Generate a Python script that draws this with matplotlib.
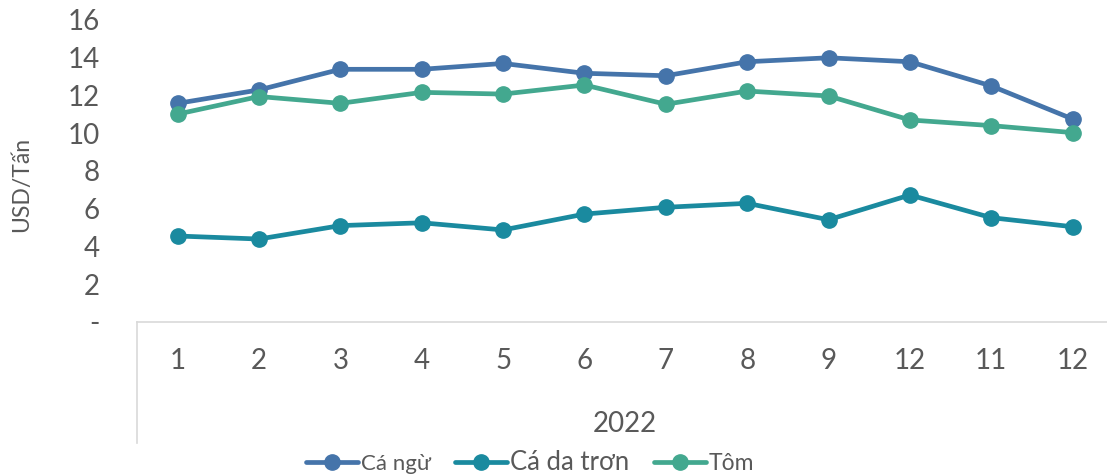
import matplotlib
matplotlib.use("Agg")
import matplotlib.pyplot as plt
import numpy as np

plt.rcParams['font.family'] = ['Lato', 'DejaVu Sans']

months = ["1", "2", "3", "4", "5", "6", "7", "8", "9", "12", "11", "12"]
year_label = "2022"
ca_ngu = [11.57, 12.28, 13.37, 13.37, 13.68, 13.16, 13.03, 13.77, 13.98, 13.77, 12.49, 10.74]
ca_da_tron = [4.55, 4.39, 5.10, 5.25, 4.87, 5.71, 6.07, 6.28, 5.41, 6.72, 5.52, 5.04]
tom = [11.00, 11.93, 11.57, 12.15, 12.06, 12.54, 11.52, 12.22, 11.96, 10.69, 10.39, 10.02]
series_names = ["Cá ngừ", "Cá da trơn", "Tôm"]
y_ticks = [0, 2, 4, 6, 8, 10, 12, 14, 16]
y_labels = ["-", "2", "4", "6", "8", "10", "12", "14", "16"]

colors = ["#4574AA", "#1A8A9F", "#43A88F"]
text_color = "#595959"

W, H = 1107, 476
fig = plt.figure(figsize=(W / 100, H / 100), dpi=100)
left_px, right_px, bottom_px, top_px = 137, 1107, 322, 19.6
ax = fig.add_axes([left_px / W, (H - bottom_px) / H, (right_px - left_px) / W, (bottom_px - top_px) / H])

x = np.arange(len(months))
handles = []
for vals, c, name in zip([ca_ngu, ca_da_tron, tom], colors, series_names):
    h, = ax.plot(x, vals, color=c, lw=3.4, marker='o', ms=11, label=name,
                 solid_capstyle='round', solid_joinstyle='round', clip_on=False)
    handles.append(h)

slot = (right_px - left_px) / 81.36
ax.set_xlim(-0.5, -0.5 + slot)
ax.set_ylim(0, 16)
ax.set_yticks(y_ticks)
ax.set_yticklabels(y_labels)
ax.set_xticks(x)
ax.set_xticklabels(months)
ax.tick_params(axis='y', length=0, pad=27, labelsize=20, labelcolor=text_color)
ax.tick_params(axis='x', length=0, pad=19, labelsize=20, labelcolor=text_color)

for s in ['top', 'right', 'left']:
    ax.spines[s].set_visible(False)
ax.spines['bottom'].set_color('#D9D9D9')
ax.spines['bottom'].set_linewidth(1.2)
ax.plot([0, 0], [0, -(443 - 322) / (bottom_px - top_px)], transform=ax.transAxes,
        color='#D9D9D9', lw=1.2, clip_on=False)

ax.text(5.5, -(424 - 322) / (bottom_px - top_px), year_label, transform=ax.get_xaxis_transform(),
        ha='center', va='center', fontsize=20, color=text_color)

fig.text(22 / W, (H - 184) / H, "USD/Tấn", rotation=90, ha='center', va='center',
         fontsize=16.5, color=text_color)

leg = fig.legend(handles=handles, loc='center', bbox_to_anchor=(530 / W, (H - 462) / H),
                 ncol=3, frameon=False, handlelength=2.35, handletextpad=0.12,
                 columnspacing=1.1, borderaxespad=0, fontsize=16)
sizes = [16, 18.5, 16.5]
for t, s in zip(leg.get_texts(), sizes):
    t.set_fontsize(s)
    t.set_color(text_color)

fig.savefig("out.png", dpi=100)
